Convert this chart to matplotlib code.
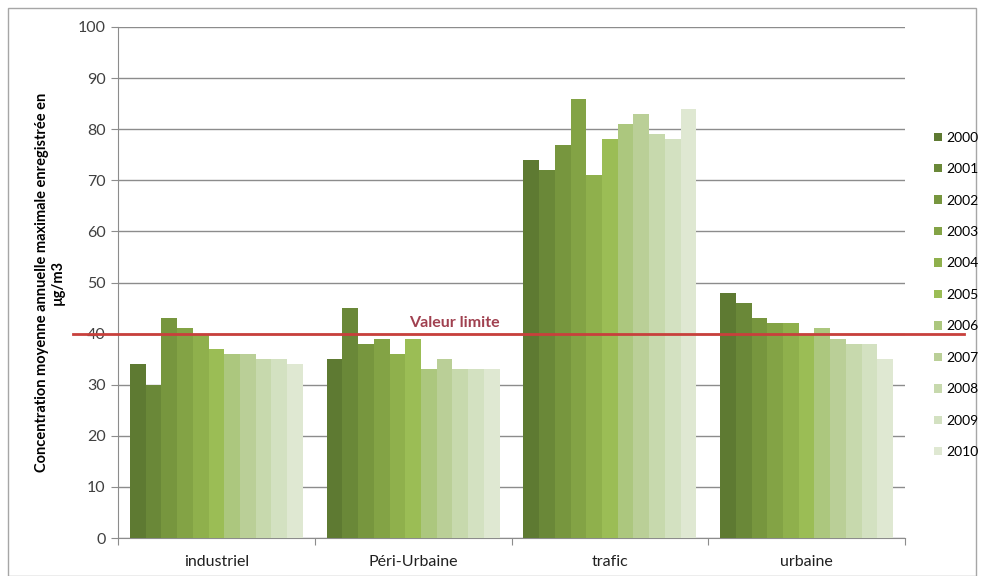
import numpy as np
import matplotlib
matplotlib.use("Agg")
import matplotlib.pyplot as plt
from matplotlib.patches import Rectangle

plt.rcParams["font.family"] = ["Lato", "DejaVu Sans"]

# Data
categories = ["industriel", "Péri-Urbaine", "trafic", "urbaine"]
years = ["2000", "2001", "2002", "2003", "2004", "2005",
         "2006", "2007", "2008", "2009", "2010"]
industriel = [34, 30, 43, 41, 40, 37, 36, 36, 35, 35, 34]
peri_urbaine = [35, 45, 38, 39, 36, 39, 33, 35, 33, 33, 33]
trafic = [74, 72, 77, 86, 71, 78, 81, 83, 79, 78, 84]
urbaine = [48, 46, 43, 42, 42, 40, 41, 39, 38, 38, 35]
valeur_limite = 40

colors = ["#5e7a32", "#6a8838", "#77963e", "#83a345", "#8fb04c", "#9bbd55",
          "#acc77e", "#bacf97", "#c7d9ad", "#d3e1c1", "#dfe8d2"]

values = np.array([industriel, peri_urbaine, trafic, urbaine])

fig = plt.figure(figsize=(9.82, 5.76), dpi=100)
ax = fig.add_axes([118 / 982, 38 / 576, 787 / 982, 511 / 576])

x = np.arange(len(categories))
bar_w = 0.08
for i, year in enumerate(years):
    ax.bar(x + (i - 5) * bar_w, values[:, i], width=bar_w, color=colors[i],
           label=year, zorder=3, linewidth=0)

ax.set_xlim(-0.5, 3.5)
ax.set_ylim(0, 100)
ax.set_yticks(np.arange(0, 101, 10))
ax.yaxis.grid(True, color="#8c8c8c", linewidth=1, zorder=0)
ax.tick_params(axis="y", direction="out", length=5, color="#8c8c8c",
               labelsize=11.5, labelcolor="#404040", pad=4)

# category boundaries as major ticks, labels on minor ticks
ax.set_xticks(np.arange(-0.5, 4, 1))
ax.set_xticklabels([])
ax.set_xticks(x, minor=True)
ax.set_xticklabels(categories, minor=True)
ax.tick_params(axis="x", which="major", direction="out", length=5, color="#8c8c8c")
ax.tick_params(axis="x", which="minor", length=0, labelsize=11.5,
               labelcolor="#202020", pad=12)

for side in ["top", "right"]:
    ax.spines[side].set_visible(False)
for side in ["left", "bottom"]:
    ax.spines[side].set_color("#8c8c8c")

ax.set_ylabel("Concentration moyenne annuelle maximale enregistrée en\nµg/m3",
              fontsize=10.5, fontweight="bold", labelpad=9)

# limit line
ax.axhline(valeur_limite, xmin=-0.057, xmax=1.075, color="#c8403c",
           linewidth=2, clip_on=False, zorder=5)
ax.text(1.21, valeur_limite + 0.8, "Valeur limite", color="#a0404f",
        fontsize=11.5, fontweight="bold", ha="center", va="bottom", zorder=6)

leg = fig.legend(loc="center left", bbox_to_anchor=(927 / 982, 0.488),
                 frameon=False, fontsize=10, handlelength=0.55,
                 handleheight=0.55, handletextpad=0.35, labelspacing=1.4,
                 borderpad=0)

fig.patches.append(Rectangle((8 / 982, 0), 968 / 982, 568 / 576,
                             transform=fig.transFigure, fill=False,
                             edgecolor="#a6a6a6", linewidth=1))

fig.savefig("out.png", dpi=100)
